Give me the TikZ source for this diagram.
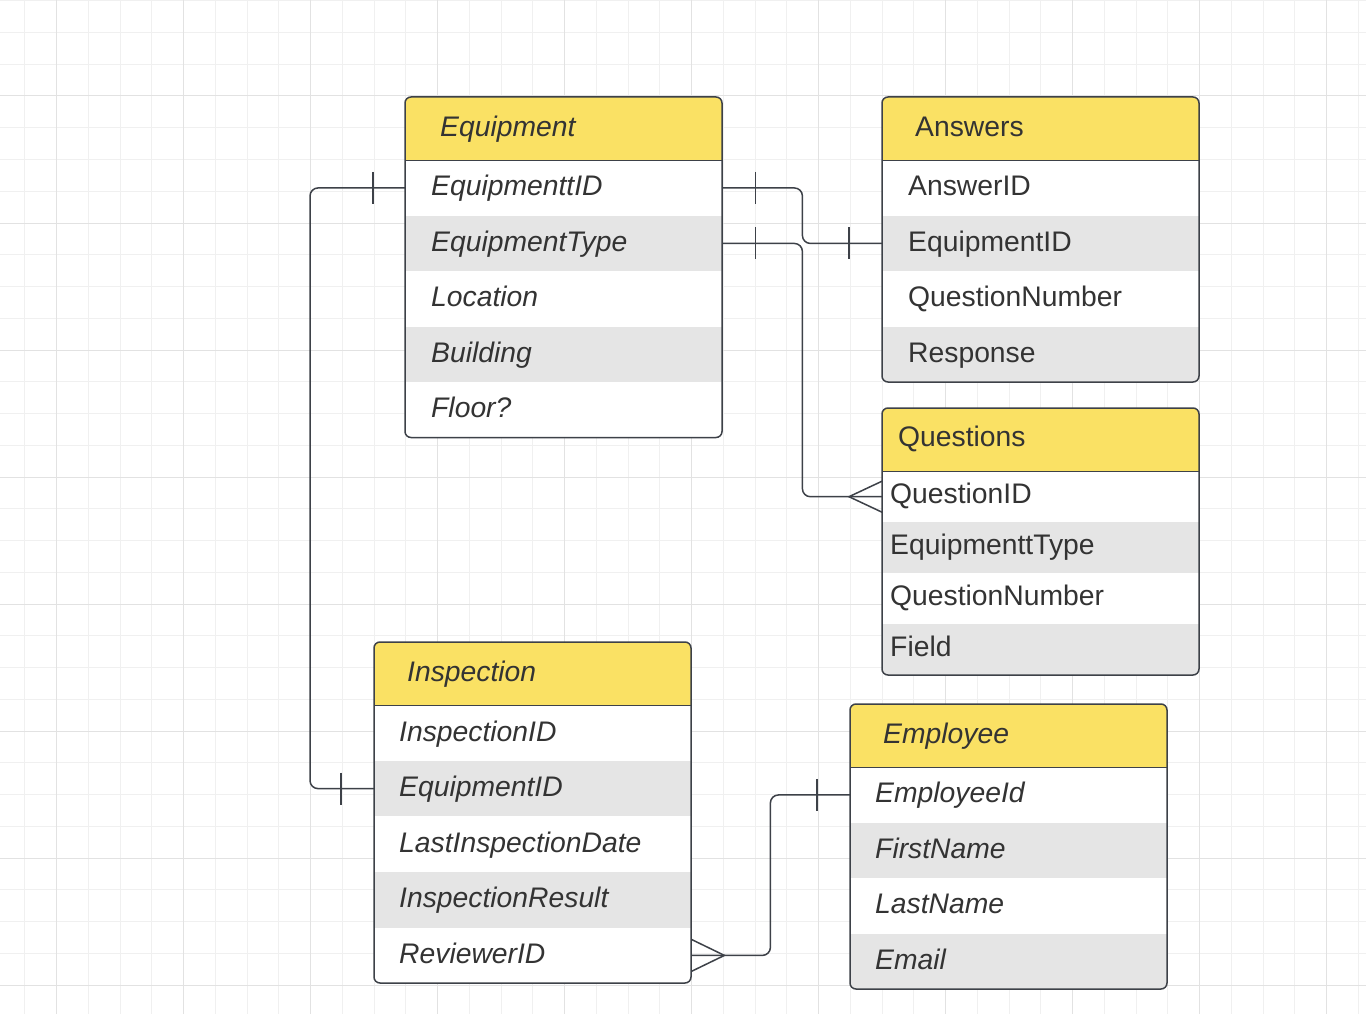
\documentclass[tikz,border=0pt]{standalone}
\usepackage{fontspec}
\setmainfont{Liberation Sans}
\usetikzlibrary{calc}
\definecolor{hdr}{HTML}{FAE164}
\definecolor{alt}{HTML}{E5E5E5}
\definecolor{edgec}{HTML}{3D4148}
\definecolor{txt}{HTML}{333333}
\definecolor{gmin}{HTML}{F0F0F0}
\definecolor{gmaj}{HTML}{E2E2E2}
\newcommand{\tf}{\fontsize{28.3}{33}\selectfont}
\newcommand{\tfi}{\fontsize{28.3}{33}\selectfont\itshape}
\begin{document}
\begin{tikzpicture}[x=1pt,y=-1pt,
  cell/.style={anchor=north west, inner ysep=0pt, align=left, text=txt,
    font=\tf, minimum width=317pt, text height=16pt, text depth=0pt},
  hrow/.style={cell, fill=hdr, minimum height=63pt},
  wrow/.style={cell, fill=white, minimum height=#1},
  grow/.style={cell, fill=alt, minimum height=#1},
  padA/.style={inner xsep=26pt, text width=265pt},
  padI/.style={inner xsep=25pt, text width=267pt, font=\tfi},
  padQ/.style={inner xsep=8pt, text width=301pt, text height=14.5pt},
  padQH/.style={inner xsep=16pt, text width=285pt, text height=14.5pt},
  border/.style={draw=edgec, line width=1.5pt, rounded corners=6pt},
  sep/.style={draw=edgec, line width=1.5pt},
  conn/.style={draw=edgec, line width=1.5pt, rounded corners=8pt},
  tick/.style={draw=edgec, line width=1.5pt}
]
\useasboundingbox (0,0) rectangle (1366,1014);
\fill[white] (0,0) rectangle (1366,1014);
% grid
\foreach \i in {0,...,42} \draw[gmin, line width=1pt] ({24.75+31.75*\i},0) -- ({24.75+31.75*\i},1014);
\foreach \i in {0,...,31} \draw[gmin, line width=1pt] (0,{0.75+31.75*\i}) -- (1366,{0.75+31.75*\i});
\foreach \i in {0,...,10} \draw[gmaj, line width=1pt] ({56.5+127*\i},0) -- ({56.5+127*\i},1014);
\foreach \i in {0,...,7} \draw[gmaj, line width=1pt] (0,{96+127*\i}) -- (1366,{96+127*\i});

% Equipment
\begin{scope}
\clip[rounded corners=6pt] (405,97) rectangle (722,437.5);
\node[hrow, inner xsep=35pt, text width=247pt, font=\tfi] (eh) at (405,97) {Equipment};
\node[wrow=55.5pt, padA, font=\tfi] (e1) at (405,160) {EquipmenttID};
\node[grow=55.5pt, padA, font=\tfi] (e2) at (405,215.5) {EquipmentType};
\node[wrow=55.5pt, padA, font=\tfi] (e3) at (405,271) {Location};
\node[grow=55.5pt, padA, font=\tfi] (e4) at (405,326.5) {Building};
\node[wrow=55.5pt, padA, font=\tfi] (e5) at (405,382) {Floor?};
\end{scope}
\draw[border] (405,97) rectangle (722,437.5);
\draw[sep] (eh.south west) -- (eh.south east);

% Answers
\begin{scope}
\clip[rounded corners=6pt] (882,97) rectangle (1199,382);
\node[hrow, inner xsep=33pt, text width=251pt] (ah) at (882,97) {Answers};
\node[wrow=55.5pt, padA] (a1) at (882,160) {AnswerID};
\node[grow=55.5pt, padA] (a2) at (882,215.5) {EquipmentID};
\node[wrow=55.5pt, padA] (a3) at (882,271) {QuestionNumber};
\node[grow=55.5pt, padA] (a4) at (882,326.5) {Response};
\end{scope}
\draw[border] (882,97) rectangle (1199,382);
\draw[sep] (ah.south west) -- (ah.south east);

% Questions
\begin{scope}
\clip[rounded corners=6pt] (882,408) rectangle (1199,675);
\node[hrow, padQH] (qh) at (882,408) {Questions};
\node[wrow=51pt, padQ] (q1) at (882,471) {QuestionID};
\node[grow=51pt, padQ] (q2) at (882,522) {EquipmenttType};
\node[wrow=51pt, padQ] (q3) at (882,573) {QuestionNumber};
\node[grow=51pt, padQ] (q4) at (882,624) {Field};
\end{scope}
\draw[border] (882,408) rectangle (1199,675);
\draw[sep] (qh.south west) -- (qh.south east);

% Inspection
\begin{scope}
\clip[rounded corners=6pt] (374,642) rectangle (691,983);
\node[hrow, inner xsep=33pt, text width=251pt, font=\tfi] (ih) at (374,642) {Inspection};
\node[wrow=55.6pt, padI] (i1) at (374,705) {InspectionID};
\node[grow=55.6pt, padI] (i2) at (374,760.6) {EquipmentID};
\node[wrow=55.6pt, padI] (i3) at (374,816.2) {LastInspectionDate};
\node[grow=55.6pt, padI] (i4) at (374,871.8) {InspectionResult};
\node[wrow=55.6pt, padI] (i5) at (374,927.4) {ReviewerID};
\end{scope}
\draw[border] (374,642) rectangle (691,983);
\draw[sep] (ih.south west) -- (ih.south east);

% Employee
\begin{scope}
\clip[rounded corners=6pt] (850,704) rectangle (1167,989);
\node[hrow, inner xsep=33pt, text width=251pt, font=\tfi] (mh) at (850,704) {Employee};
\node[wrow=55.5pt, padI] (m1) at (850,767) {EmployeeId};
\node[grow=55.5pt, padI] (m2) at (850,822.5) {FirstName};
\node[wrow=55.5pt, padI] (m3) at (850,878) {LastName};
\node[grow=55.5pt, padI] (m4) at (850,933.5) {Email};
\end{scope}
\draw[border] (850,704) rectangle (1167,989);
\draw[sep] (mh.south west) -- (mh.south east);

% Connectors
\draw[conn] (e1.west) -- ++(-95,0) |- (i2.west);
\draw[tick] ($(e1.west)+(-32,-16)$) -- ++(0,32);
\draw[tick] ($(i2.west)+(-33,-16)$) -- ++(0,32);

\draw[conn] (e1.east) -- ++(80,0) |- (a2.west);
\draw[tick] ($(e1.east)+(33,-16)$) -- ++(0,32);
\draw[tick] ($(a2.west)+(-33,-16)$) -- ++(0,32);

\draw[conn] (e2.east) -- ++(80,0) |- (q1.west);
\draw[tick] ($(e2.east)+(33,-16)$) -- ++(0,32);
\draw[tick] ($(q1.west)+(0,-15.5)$) -- ($(q1.west)+(-33,0)$) -- ($(q1.west)+(0,15.5)$);

\draw[conn] (i5.east) -- ++(79,0) |- (m1.west);
\draw[tick] ($(i5.east)+(0,-16)$) -- ($(i5.east)+(33,0)$) -- ($(i5.east)+(0,16)$);
\draw[tick] ($(m1.west)+(-33,-16)$) -- ++(0,32);
\end{tikzpicture}
\end{document}
